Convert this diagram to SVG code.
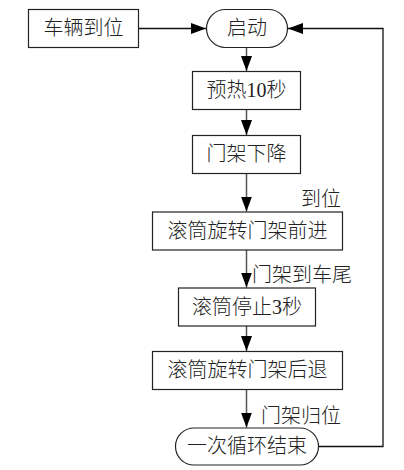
<svg xmlns="http://www.w3.org/2000/svg" width="404" height="470" viewBox="0 0 404 470">
<style>
.box{fill:#fff;stroke:#222;stroke-width:1.2}
.t{font-family:"Liberation Serif","Noto Sans CJK SC",serif;font-size:20px;font-weight:300;fill:#222;text-anchor:middle;dominant-baseline:central}
.lbl{font-family:"Liberation Serif","Noto Sans CJK SC",serif;font-size:20px;font-weight:300;fill:#222}
.c{fill:none;stroke:#555;stroke-width:1.5}
.k{fill:none;stroke:#111;stroke-width:1.3}
</style>
<defs>
<marker id="ah" markerUnits="userSpaceOnUse" markerWidth="16" markerHeight="12" refX="15" refY="5.5" orient="auto" viewBox="0 0 16 11">
<path d="M0,0 L15,5.5 L0,11 Z" fill="#000"/>
</marker>
</defs>
<rect width="404" height="470" fill="#fff"/>
<g id="connectors">
<line class="k" x1="138.5" y1="28.5" x2="206" y2="28.5" marker-end="url(#ah)"/>
<line class="c" x1="246.5" y1="47.5" x2="246.5" y2="71" marker-end="url(#ah)"/>
<line class="c" x1="246.5" y1="109.5" x2="246.5" y2="135" marker-end="url(#ah)"/>
<line class="c" x1="246.5" y1="173.5" x2="246.5" y2="211.5" marker-end="url(#ah)"/>
<line class="c" x1="246.5" y1="250" x2="246.5" y2="287.5" marker-end="url(#ah)"/>
<line class="c" x1="246.5" y1="326" x2="246.5" y2="351" marker-end="url(#ah)"/>
<line class="c" x1="246.5" y1="389.5" x2="246.5" y2="427.5" marker-end="url(#ah)"/>
<polyline class="k" points="318.5,446.5 383,446.5 383,28.5 288,28.5" marker-end="url(#ah)"/>
<text class="lbl" x="301" y="206">到位</text>
<text class="lbl" x="252" y="282">门架到车尾</text>
<text class="lbl" x="261" y="423">门架归位</text>
</g>
<g id="n-car">
<rect class="box" x="28.5" y="9.5" width="110" height="38"/>
<text class="t" x="83.5" y="28">车辆到位</text>
</g>
<g id="n-start">
<rect class="box" x="206.5" y="9.5" width="81" height="38" rx="19" ry="19"/>
<text class="t" x="247" y="28">启动</text>
</g>
<g id="n-preheat">
<rect class="box" x="192.5" y="71.5" width="108" height="38"/>
<text class="t" x="246.5" y="90">预热10秒</text>
</g>
<g id="n-lower">
<rect class="box" x="192.5" y="135.5" width="108" height="38"/>
<text class="t" x="246.5" y="154">门架下降</text>
</g>
<g id="n-forward">
<rect class="box" x="152.5" y="212" width="190" height="38"/>
<text class="t" x="247.5" y="230.5">滚筒旋转门架前进</text>
</g>
<g id="n-stop">
<rect class="box" x="178.5" y="288" width="137" height="38"/>
<text class="t" x="247" y="306.5">滚筒停止3秒</text>
</g>
<g id="n-back">
<rect class="box" x="152.5" y="351.5" width="190" height="38"/>
<text class="t" x="247.5" y="370">滚筒旋转门架后退</text>
</g>
<g id="n-end">
<rect class="box" x="175.5" y="428" width="143" height="37" rx="18.5" ry="18.5"/>
<text class="t" x="247" y="446">一次循环结束</text>
</g>
</svg>
